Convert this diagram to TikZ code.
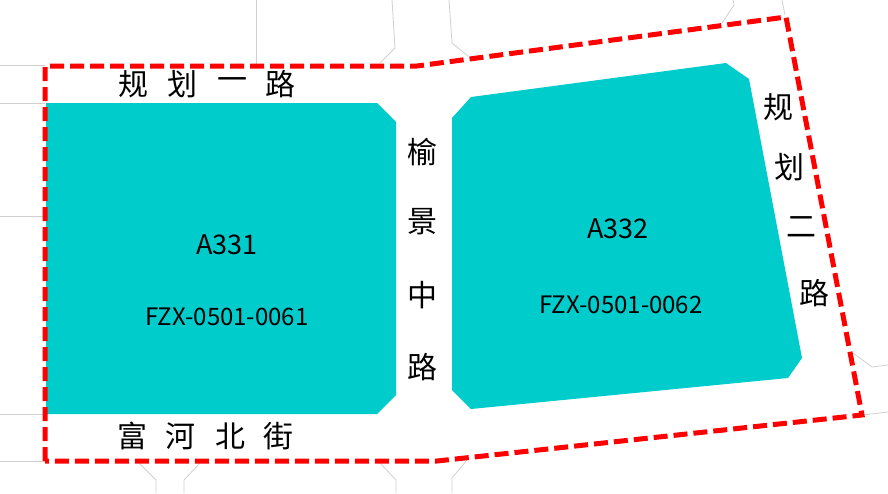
\documentclass[tikz,border=0pt]{standalone}
\usepackage{fontspec}
\setmainfont{Noto Sans CJK SC}
\definecolor{plotcyan}{RGB}{0,204,204}
\definecolor{linegrey}{RGB}{208,208,208}
\tikzset{
	roadline/.style={draw=linegrey,line width=0.8pt},
	plot/.style={fill=plotcyan,draw=none},
	redline/.style={draw=red,line width=5pt,dash pattern=on 14pt off 6pt},
	roadname/.style={inner sep=0pt,font=\fontsize{30}{30}\selectfont},
	plotname/.style={inner sep=0pt,font=\fontsize{27}{27}\selectfont},
	plotcode/.style={inner sep=0pt,font=\fontsize{24}{24}\selectfont}
}
\begin{document}
\begin{tikzpicture}[x=1pt,y=-1pt]
	\useasboundingbox (0,0) rectangle (888,493);
	% roads behind
	\draw[roadline] (0,65)--(45,65);
	\draw[roadline] (0,103)--(45,103);
	\draw[roadline] (0,216)--(45,216);
	\draw[roadline] (0,414)--(45,414);
	\draw[roadline] (0,461)--(45,461);
	\draw[roadline] (256,0)--(256,65);
	\draw[roadline] (392,0)--(395,48)--(380,63);
	\draw[roadline] (449,0)--(452,43)--(468,56);
	\draw[roadline] (733,0)--(734,5)--(722,23);
	\draw[roadline] (782,0)--(785,15);
	\draw[roadline] (139,463)--(156,480)--(156,493);
	\draw[roadline] (200,463)--(184,480)--(184,493);
	\draw[roadline] (380,463)--(396,480)--(396,493);
	\draw[roadline] (467,460)--(452,478)--(452,493);
	\draw[roadline] (853,353)--(872,367)--(888,365);
	\draw[roadline] (862,415)--(888,412);
	% plots
	\fill[plot] (46,103)--(377,103)--(396,122)--(396,395)--(377,414)--(46,414)--cycle;
	\fill[plot] (452,118)--(471,97)--(726,63)--(749,79)--(802,358)--(788,378)--(471,409)--(452,390)--cycle;
	% boundary
	\draw[redline] (45,461)--(45,66)--(417,66)--(786,17)--(862,415)--(437,461)--cycle;
	% labels
	\node[plotname] (a331) at (227,245) {A331};
	\node[plotcode] (code331) at (227,317) {FZX-0501-0061};
	\node[plotname] (a332) at (618,229) {A332};
	\node[plotcode] (code332) at (621,305) {FZX-0501-0062};
	\node[roadname] (n1) at (133,84) {规};
	\node[roadname] (n2) at (182,84) {划};
	\node[roadname] (n3) at (232,84) {一};
	\node[roadname] (n4) at (280,84) {路};
	\node[roadname] (s1) at (132,436) {富};
	\node[roadname] (s2) at (180,436) {河};
	\node[roadname] (s3) at (230,436) {北};
	\node[roadname] (s4) at (278,436) {街};
	\node[roadname] (m1) at (422,152) {榆};
	\node[roadname] (m2) at (422,222) {景};
	\node[roadname] (m3) at (422,295) {中};
	\node[roadname] (m4) at (422,367) {路};
	\node[roadname] (e1) at (778,107) {规};
	\node[roadname] (e2) at (789,167) {划};
	\node[roadname] (e3) at (801,227) {二};
	\node[roadname] (e4) at (814,293) {路};
\end{tikzpicture}
\end{document}
